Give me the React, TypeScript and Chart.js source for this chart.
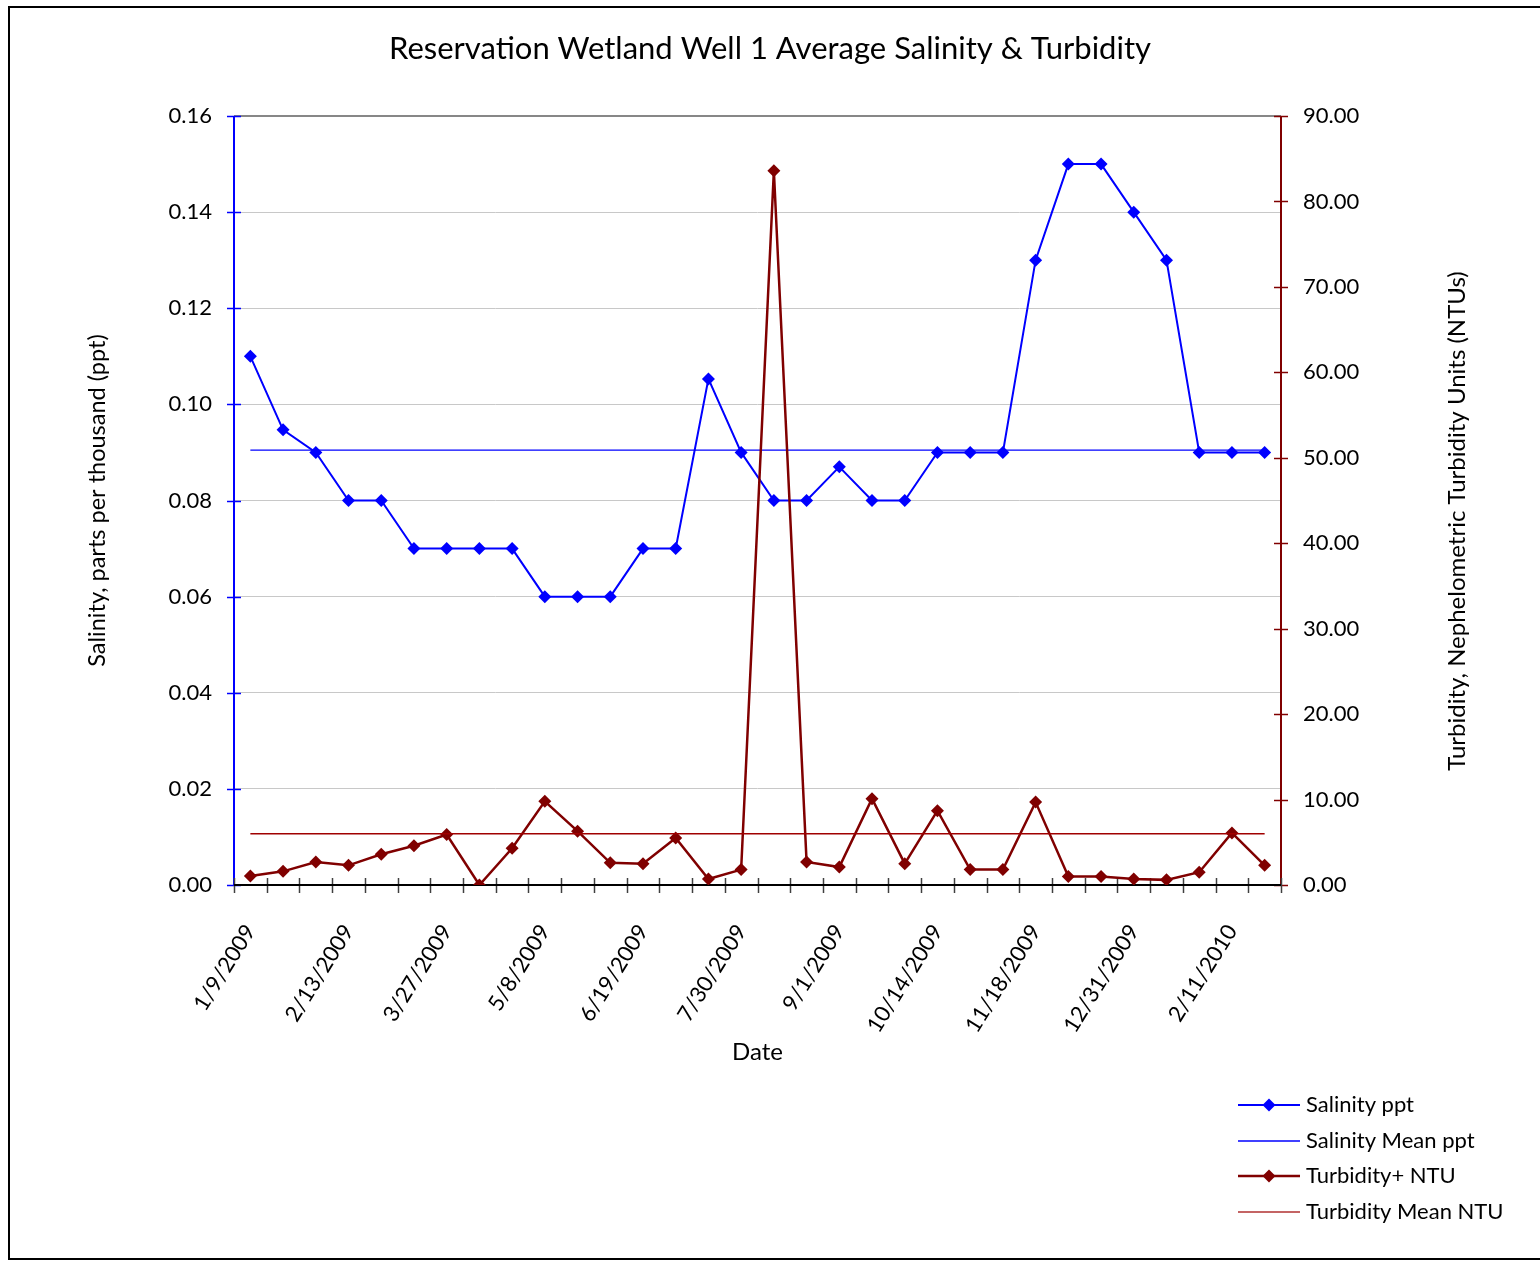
import React, { useEffect, useRef } from "react";
import { Chart, registerables } from "chart.js";

Chart.register(...registerables);

const dates = [
  "1/9/2009", "1/23/2009", "2/2/2009", "2/13/2009", "2/27/2009", "3/13/2009",
  "3/27/2009", "4/10/2009", "4/24/2009", "5/8/2009", "5/22/2009", "6/5/2009",
  "6/19/2009", "7/2/2009", "7/16/2009", "7/30/2009", "8/13/2009", "8/21/2009",
  "9/1/2009", "9/15/2009", "9/29/2009", "10/14/2009", "10/28/2009", "11/6/2009",
  "11/18/2009", "12/2/2009", "12/16/2009", "12/31/2009", "1/14/2010", "1/28/2010",
  "2/11/2010", "2/25/2010",
];

const salinity = [
  0.11, 0.0947, 0.09, 0.08, 0.08, 0.07, 0.07, 0.07, 0.07, 0.06, 0.06, 0.06,
  0.07, 0.07, 0.1053, 0.09, 0.08, 0.08, 0.087, 0.08, 0.08, 0.09, 0.09, 0.09,
  0.13, 0.15, 0.15, 0.14, 0.13, 0.09, 0.09, 0.09,
];

const turbidity = [
  1.05, 1.6, 2.7, 2.3, 3.6, 4.6, 5.9, 0.0, 4.3, 9.8, 6.3, 2.6,
  2.5, 5.5, 0.7, 1.8, 83.6, 2.7, 2.1, 10.1, 2.5, 8.7, 1.8, 1.8,
  9.7, 1.0, 1.0, 0.7, 0.6, 1.5, 6.1, 2.3,
];

const SALINITY_MEAN = 0.0905;
const TURBIDITY_MEAN = 6.0;
const salinityMean = dates.map(() => SALINITY_MEAN);
const turbidityMean = dates.map(() => TURBIDITY_MEAN);

const seriesNames = ["Salinity ppt", "Salinity Mean ppt", "Turbidity+ NTU", "Turbidity Mean NTU"];

const BLUE = "#0000FF";
const RED = "#800000";
const FONT = "Lato";

const decorPlugin = {
  id: "decor",
  beforeDatasetsDraw(chart: any) {
    const { ctx, chartArea } = chart;
    const { left, right, top, bottom } = chartArea;
    const y = chart.scales.y;
    const y1 = chart.scales.y1;
    const x = chart.scales.x;
    ctx.save();
    // left axis
    ctx.strokeStyle = BLUE;
    ctx.lineWidth = 2;
    ctx.beginPath();
    ctx.moveTo(left, top);
    ctx.lineTo(left, bottom);
    ctx.stroke();
    ctx.lineWidth = 1.5;
    y.ticks.forEach((t: any) => {
      const py = Math.round(y.getPixelForValue(t.value)) + 0.5;
      ctx.beginPath();
      ctx.moveTo(left - 7, py);
      ctx.lineTo(left + 7, py);
      ctx.stroke();
    });
    // right axis
    ctx.strokeStyle = RED;
    ctx.lineWidth = 2;
    ctx.beginPath();
    ctx.moveTo(right, top);
    ctx.lineTo(right, bottom);
    ctx.stroke();
    ctx.lineWidth = 1.5;
    y1.ticks.forEach((t: any) => {
      const py = Math.round(y1.getPixelForValue(t.value)) + 0.5;
      ctx.beginPath();
      ctx.moveTo(right - 7, py);
      ctx.lineTo(right + 7, py);
      ctx.stroke();
    });
    // bottom axis
    const n = dates.length;
    const step = x.getPixelForValue(1) - x.getPixelForValue(0);
    ctx.strokeStyle = "#404040";
    ctx.lineWidth = 1.5;
    for (let i = 0; i <= n; i++) {
      const px = Math.round(x.getPixelForValue(0) - step / 2 + i * step) + 0.5;
      ctx.beginPath();
      ctx.moveTo(px, bottom - 7);
      ctx.lineTo(px, bottom + 8);
      ctx.stroke();
    }
    ctx.strokeStyle = "#000000";
    ctx.lineWidth = 2;
    ctx.beginPath();
    ctx.moveTo(left, bottom);
    ctx.lineTo(right, bottom);
    ctx.stroke();
    ctx.restore();
  },
  afterDraw(chart: any) {
    const { ctx } = chart;
    ctx.save();
    // title
    ctx.fillStyle = "#000";
    ctx.font = `31px ${FONT}`;
    ctx.textAlign = "center";
    ctx.textBaseline = "middle";
    ctx.fillText("Reservation Wetland Well 1 Average Salinity & Turbidity", 770, 49);
    // right axis title
    ctx.save();
    ctx.translate(1457, 521);
    ctx.rotate(-Math.PI / 2);
    ctx.font = `24px ${FONT}`;
    ctx.fillText("Turbidity, Nephelometric Turbidity Units (NTUs)", 0, 0);
    ctx.restore();
    // legend
    const items = [
      { color: BLUE, width: 2, marker: true },
      { color: BLUE, width: 1.3, marker: false },
      { color: RED, width: 2.5, marker: true },
      { color: "#B03030", width: 1.3, marker: false },
    ];
    const ys = [1105, 1141, 1176, 1212];
    ctx.font = `22px ${FONT}`;
    ctx.textAlign = "left";
    items.forEach((it, i) => {
      const yy = ys[i];
      ctx.strokeStyle = it.color;
      ctx.lineWidth = it.width;
      ctx.beginPath();
      ctx.moveTo(1238, yy);
      ctx.lineTo(1300, yy);
      ctx.stroke();
      if (it.marker) {
        ctx.fillStyle = it.color;
        ctx.beginPath();
        ctx.moveTo(1269, yy - 6.5);
        ctx.lineTo(1275.5, yy);
        ctx.lineTo(1269, yy + 6.5);
        ctx.lineTo(1262.5, yy);
        ctx.closePath();
        ctx.fill();
      }
      ctx.fillStyle = "#000";
      ctx.fillText(seriesNames[i], 1306, yy);
    });
    // outer border
    ctx.strokeStyle = "#000";
    ctx.lineWidth = 2;
    ctx.strokeRect(9, 7, 1540, 1252);
    ctx.restore();
  },
};

export default function App() {
  const ref = useRef<HTMLCanvasElement | null>(null);
  useEffect(() => {
    if (!ref.current) return;
    Chart.defaults.color = "#000";
    Chart.defaults.font.family = FONT;
    const chart = new Chart(ref.current, {
      type: "line",
      data: {
        labels: dates,
        datasets: [
          {
            label: seriesNames[0],
            data: salinity,
            yAxisID: "y",
            borderColor: BLUE,
            backgroundColor: BLUE,
            borderWidth: 2,
            pointStyle: "rectRot",
            pointRadius: 6.5,
            pointBorderWidth: 0,
            tension: 0,
            order: 3,
          },
          {
            label: seriesNames[1],
            data: salinityMean,
            yAxisID: "y",
            borderColor: BLUE,
            borderWidth: 1.3,
            pointRadius: 0,
            order: 2,
          },
          {
            label: seriesNames[2],
            data: turbidity,
            yAxisID: "y1",
            borderColor: RED,
            backgroundColor: RED,
            borderWidth: 2.5,
            pointStyle: "rectRot",
            pointRadius: 6.5,
            pointBorderWidth: 0,
            tension: 0,
            order: 1,
          },
          {
            label: seriesNames[3],
            data: turbidityMean,
            yAxisID: "y1",
            borderColor: "#A00000",
            borderWidth: 1.3,
            pointRadius: 0,
            order: 0,
          },
        ],
      },
      options: {
        responsive: false,
        animation: false,
        layout: { padding: { top: 116, left: 0, right: 0, bottom: 0 } },
        plugins: {
          legend: { display: false },
          title: { display: false },
          tooltip: { enabled: false },
        },
        scales: {
          x: {
            type: "category",
            offset: true,
            position: "bottom",
            grid: { display: false },
            border: { display: false },
            ticks: {
              autoSkip: false,
              minRotation: 58,
              maxRotation: 58,
              padding: 27,
              font: { size: 22, family: FONT },
              color: "#000",
              callback: (_v: any, i: number) => (i % 3 === 0 ? dates[i] : ""),
            },
            title: {
              display: true,
              text: "Date",
              font: { size: 24, family: FONT },
              color: "#000",
              padding: { top: 0, bottom: 194 },
            },
            afterFit: (s: any) => {
              s.height = 376;
            },
          } as any,
          y: {
            position: "left",
            min: 0,
            max: 0.16,
            ticks: {
              stepSize: 0.02,
              padding: 22,
              font: { size: 22, family: FONT },
              color: "#000",
              callback: (v: any) => Number(v).toFixed(2),
            },
            grid: {
              drawTicks: false,
              color: (c: any) => (c.tick && Math.abs(c.tick.value - 0.16) < 1e-9 ? "#878787" : "#c8c8c8"),
              lineWidth: (c: any) => (c.tick && Math.abs(c.tick.value - 0.16) < 1e-9 ? 2 : 1),
            },
            border: { display: false },
            title: {
              display: true,
              text: "Salinity, parts per thousand (ppt)",
              font: { size: 23.5, family: FONT },
              color: "#000",
              padding: { top: 83, bottom: 0 },
            },
            afterFit: (s: any) => {
              s.width = 234;
            },
          } as any,
          y1: {
            position: "right",
            min: 0,
            max: 90,
            ticks: {
              stepSize: 10,
              padding: 22,
              font: { size: 22, family: FONT },
              color: "#000",
              callback: (v: any) => Number(v).toFixed(2),
            },
            grid: { drawOnChartArea: false, drawTicks: false },
            border: { display: false },
            afterFit: (s: any) => {
              s.width = 259;
            },
          } as any,
        },
      },
      plugins: [decorPlugin],
    });
    return () => chart.destroy();
  }, []);
  return (
    <div style={{ position: "absolute", left: 0, top: 0, width: 1540, height: 1261, background: "#fff" }}>
      <canvas ref={ref} width={1540} height={1261} style={{ display: "block" }} />
    </div>
  );
}
